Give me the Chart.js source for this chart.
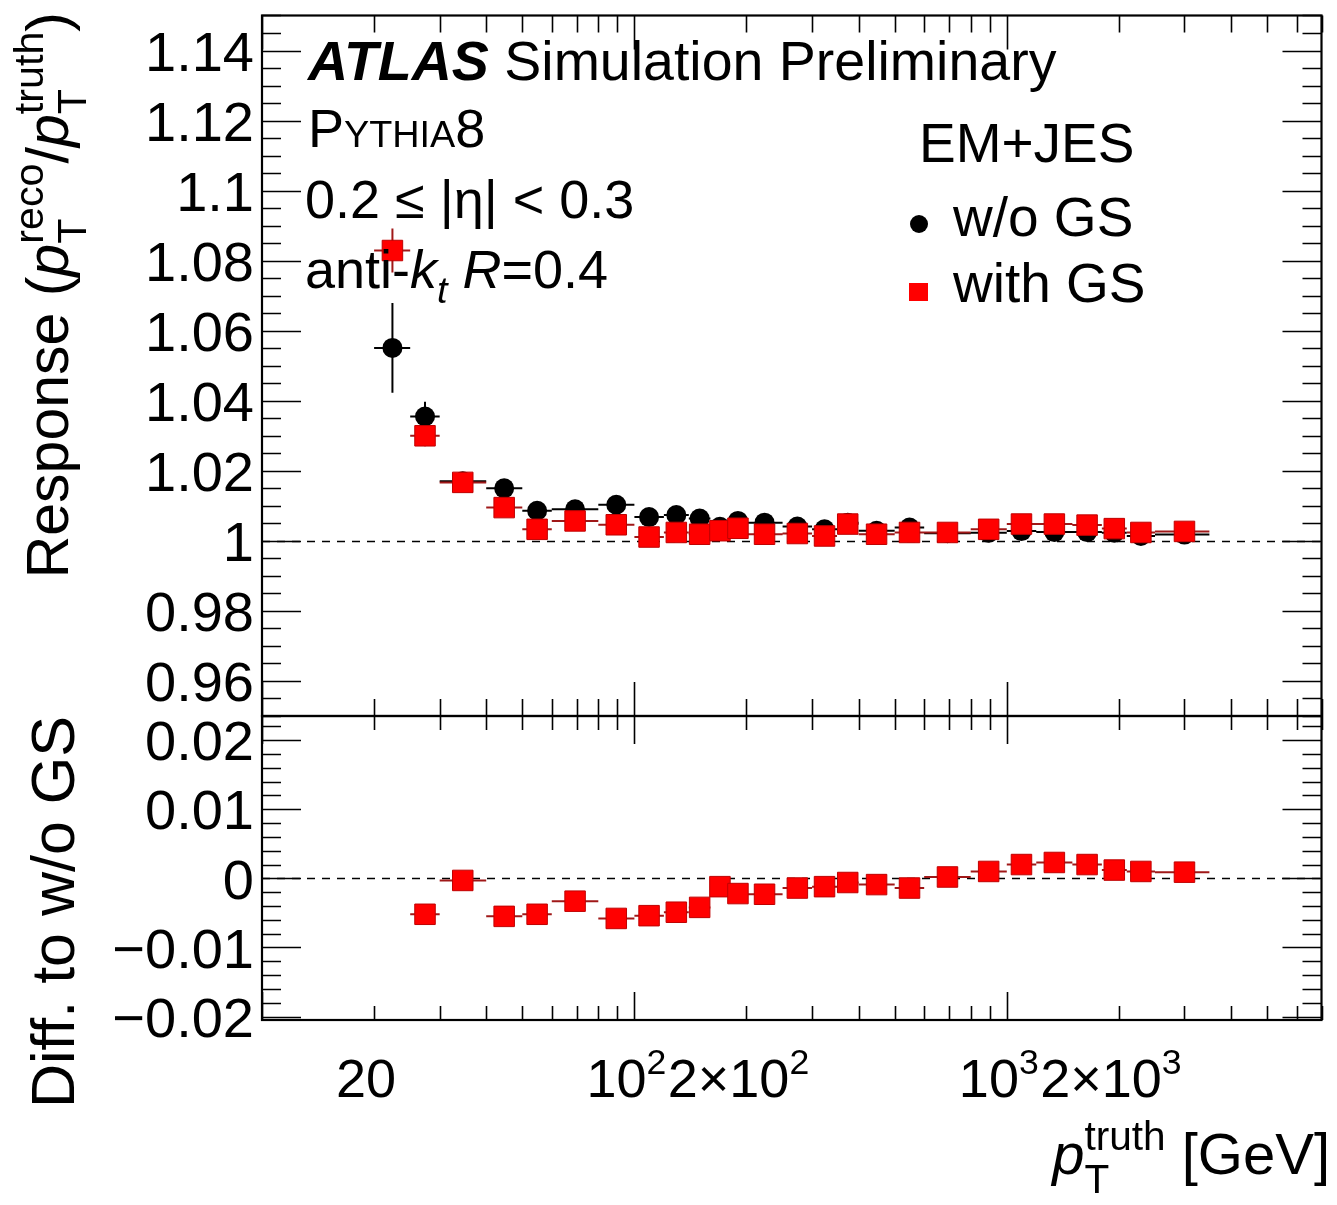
<!DOCTYPE html>
<html>
<head>
<meta charset="utf-8">
<script src="https://cdn.jsdelivr.net/npm/chart.js@4.4.0/dist/chart.umd.min.js"></script>
<style>
  html, body { margin: 0; padding: 0; background: #fff; }
  #wrap { position: relative; width: 1337px; height: 1205px; }
  canvas { position: absolute; left: 0; top: 0; }
</style>
</head>
<body>
<div id="wrap">
  <canvas id="respChart" width="1337" height="1205"></canvas>
  <canvas id="diffChart" width="1337" height="1205"></canvas>
</div>
<script>
// pT bins (GeV)
const binLow    = [20, 25, 30, 40, 50, 60, 80, 100, 120, 140, 160, 180, 200, 250, 300, 350, 400, 500, 600, 800, 1000, 1200, 1500, 1800, 2100, 2500];
const binHigh   = [25, 30, 40, 50, 60, 80, 100, 120, 140, 160, 180, 200, 250, 300, 350, 400, 500, 600, 800, 1000, 1200, 1500, 1800, 2100, 2500, 3500];
const ptCenters = [22.4, 27.4, 34.6, 44.7, 54.8, 69.3, 89.4, 109.5, 129.6, 149.7, 169.7, 189.7, 223.6, 273.9, 324, 374, 447, 548, 693, 894, 1095, 1342, 1643, 1944, 2291, 3000];

// response w/o GS (black)
const respNoGS = [1.0551, 1.0355, 1.0170, 1.0150, 1.0086, 1.0090, 1.0103, 1.0068, 1.0074, 1.0064, 1.0040, 1.0057, 1.0052,
                  1.0041, 1.0033, 1.0052, 1.0029, 1.0038, 1.0022, 1.0023, 1.0028, 1.0025, 1.0025, 1.0023, 1.0014, 1.0018];
const errNoGS  = [0.0128, 0.0042, 0.0015, 0.0012, 0.0010, 0.0009, 0.0008, 0.0007, 0.0007, 0.0006, 0.0006, 0.0006, 0.0005,
                  0.0005, 0.0005, 0.0005, 0.0004, 0.0004, 0.0004, 0.0004, 0.0004, 0.0004, 0.0004, 0.0004, 0.0005, 0.0005];

// response with GS (red)
const respGS = [1.0829, 1.0300, 1.0167, 1.0095, 1.0033, 1.0057, 1.0046, 1.0011, 1.0024, 1.0019, 1.0029, 1.0036, 1.0019,
                1.0021, 1.0014, 1.0048, 1.0019, 1.0024, 1.0024, 1.0033, 1.0048, 1.0048, 1.0045, 1.0035, 1.0024, 1.0027];
const errGS  = [0.0063, 0.0030, 0.0014, 0.0011, 0.0009, 0.0008, 0.0007, 0.0006, 0.0006, 0.0006, 0.0005, 0.0005, 0.0005,
                0.0005, 0.0005, 0.0005, 0.0004, 0.0004, 0.0004, 0.0004, 0.0004, 0.0004, 0.0004, 0.0004, 0.0005, 0.0005];

// difference with GS - w/o GS (first bin is above the plotted range)
const diffGS  = [null, -0.0052, -0.0003, -0.0055, -0.0052, -0.0033, -0.0058, -0.0054, -0.0049, -0.0042, -0.0012, -0.0022, -0.0023,
                 -0.0014, -0.0012, -0.0006, -0.0009, -0.0014, 0.0002, 0.0010, 0.0020, 0.0023, 0.0020, 0.0012, 0.0010, 0.0009];
const errDiff = [0, 0.0004, 0.0004, 0.0003, 0.0003, 0.0003, 0.0003, 0.0003, 0.0003, 0.0003, 0.0003, 0.0003, 0.0003,
                 0.0003, 0.0003, 0.0003, 0.0003, 0.0003, 0.0003, 0.0003, 0.0003, 0.0003, 0.0003, 0.0003, 0.0003, 0.0003];

// tick labels
const ptTicks      = [20, 100, 200, 1000, 2000];
const ptTickText   = ['20', '10^2', '2\u00d710^2', '10^3', '2\u00d710^3'];
const respTicks    = [0.96, 0.98, 1, 1.02, 1.04, 1.06, 1.08, 1.1, 1.12, 1.14];
const respTickText = ['0.96', '0.98', '1', '1.02', '1.04', '1.06', '1.08', '1.1', '1.12', '1.14'];
const diffTicks    = [0.02, 0.01, 0, -0.01, -0.02];
const diffTickText = ['0.02', '0.01', '0', '\u22120.01', '\u22120.02'];

const FAMILY = '"Liberation Sans", Arial, Helvetica, sans-serif';
const RED = '#ff0000';

function font(px, it, b) {
  return (it ? 'italic ' : '') + (b ? 'bold ' : '') + px + 'px ' + FAMILY;
}

// parts: {t, it, b, s (scale), dy (em, down), stay (no advance)}
function richWidth(ctx, parts, size) {
  let w = 0;
  parts.forEach(p => {
    ctx.font = font(size * (p.s || 1), p.it, p.b);
    if (!p.stay) w += ctx.measureText(p.t).width;
  });
  return w;
}

function drawRich(ctx, parts, x, y, size, align) {
  const w = richWidth(ctx, parts, size);
  let cx = align === 'right' ? x - w : align === 'center' ? x - w / 2 : x;
  ctx.textAlign = 'left';
  ctx.textBaseline = 'alphabetic';
  ctx.fillStyle = '#000';
  parts.forEach(p => {
    ctx.font = font(size * (p.s || 1), p.it, p.b);
    ctx.fillText(p.t, cx, y + (p.dy || 0) * size);
    if (!p.stay) cx += ctx.measureText(p.t).width;
  });
}

function tickParts(txt) {
  const bits = txt.split('^');
  const parts = [{t: bits[0]}];
  if (bits[1]) parts.push({t: bits[1], s: 0.66, dy: -0.42});
  return parts;
}

function drawFrame(chart, o) {
  const {ctx, chartArea: a, scales: {x, y}} = chart;
  ctx.save();
  ctx.strokeStyle = '#000';
  ctx.lineWidth = 1.6;
  ctx.beginPath();
  // log x ticks, top and bottom edges
  [10, 100, 1000].forEach(d => {
    for (let m = 1; m <= 9; m++) {
      const v = m * d;
      if (v < x.min - 1e-9 || v > x.max) continue;
      const px = Math.round(x.getPixelForValue(v)) + 0.5;
      const len = m === 1 ? o.xMajor : o.xMinor;
      ctx.moveTo(px, a.bottom); ctx.lineTo(px, a.bottom - len);
      ctx.moveTo(px, a.top); ctx.lineTo(px, a.top + len);
    }
  });
  // linear y ticks, left and right edges
  const ratio = Math.round(o.yMajorStep / o.yMinorStep);
  const k0 = Math.ceil(y.min / o.yMinorStep - 1e-6);
  const k1 = Math.floor(y.max / o.yMinorStep + 1e-6);
  for (let k = k0; k <= k1; k++) {
    const py = Math.round(y.getPixelForValue(k * o.yMinorStep)) + 0.5;
    const len = (k % ratio === 0) ? o.yMajor : o.yMinor;
    ctx.moveTo(a.left, py); ctx.lineTo(a.left + len, py);
    ctx.moveTo(a.right, py); ctx.lineTo(a.right - len, py);
  }
  ctx.stroke();
  ctx.lineWidth = 2.2;
  ctx.strokeRect(a.left, a.top, a.right - a.left, a.bottom - a.top);
  // y tick labels
  ctx.fillStyle = '#000';
  ctx.font = font(o.labelSize);
  ctx.textAlign = 'right';
  ctx.textBaseline = 'alphabetic';
  o.yTicks.forEach((v, i) => {
    ctx.fillText(o.yTickText[i], a.left - 8, y.getPixelForValue(v) + o.labelSize * 0.36);
  });
  ctx.restore();
}

function drawRefAndErrors(chart, refY) {
  const {ctx, chartArea: a, scales: {x, y}} = chart;
  ctx.save();
  ctx.beginPath();
  ctx.rect(a.left, a.top, a.right - a.left, a.bottom - a.top);
  ctx.clip();
  // dashed reference line
  ctx.strokeStyle = '#000';
  ctx.lineWidth = 1.5;
  ctx.setLineDash([8, 7]);
  const ry = Math.round(y.getPixelForValue(refY)) + 0.5;
  ctx.beginPath();
  ctx.moveTo(a.left, ry); ctx.lineTo(a.right, ry);
  ctx.stroke();
  ctx.setLineDash([]);
  // error bars, drawn below the markers
  chart.data.datasets.slice().reverse().forEach(ds => {
    ctx.strokeStyle = ds.barColor;
    ctx.lineWidth = 2;
    ctx.beginPath();
    ds.data.forEach((pt, i) => {
      if (pt.y === null) return;
      const py = y.getPixelForValue(pt.y);
      ctx.moveTo(x.getPixelForValue(binLow[i]), py);
      ctx.lineTo(x.getPixelForValue(binHigh[i]), py);
      const px = x.getPixelForValue(pt.x);
      ctx.moveTo(px, y.getPixelForValue(pt.y - ds.errY[i]));
      ctx.lineTo(px, y.getPixelForValue(pt.y + ds.errY[i]));
    });
    ctx.stroke();
  });
  ctx.restore();
}

function points(xs, ys) {
  return xs.map((v, i) => ({x: v, y: ys[i]}));
}

function baseOptions(yMin, yMax, padTop, padBottom) {
  return {
    responsive: false,
    animation: false,
    events: [],
    layout: {padding: {left: 262, right: 7, top: padTop, bottom: padBottom}},
    scales: {
      x: {type: 'logarithmic', min: 10, max: 7000, display: false},
      y: {type: 'linear', min: yMin, max: yMax, display: false}
    },
    plugins: {legend: {display: false}, tooltip: {enabled: false}}
  };
}

const frameTop = {
  xMajor: 34, xMinor: 17, yMajor: 39, yMinor: 19, yMajorStep: 0.02, yMinorStep: 0.005,
  labelSize: 56, yTicks: respTicks, yTickText: respTickText
};
const frameBottom = {
  xMajor: 28, xMinor: 14, yMajor: 39, yMinor: 19, yMajorStep: 0.01, yMinorStep: 0.002,
  labelSize: 56, yTicks: diffTicks, yTickText: diffTickText
};

// top panel: response
new Chart(document.getElementById('respChart'), {
  type: 'scatter',
  data: {
    datasets: [{
      label: 'with GS',
      data: points(ptCenters, respGS),
      errY: errGS,
      barColor: '#a01818',
      pointStyle: 'rect',
      pointRadius: 14.5,
      backgroundColor: RED,
      borderColor: '#c00000',
      borderWidth: 1,
      order: 0
    }, {
      label: 'w/o GS',
      data: points(ptCenters, respNoGS),
      errY: errNoGS,
      barColor: '#000',
      pointStyle: 'circle',
      pointRadius: 10,
      backgroundColor: '#000',
      borderColor: '#000',
      borderWidth: 0,
      order: 1
    }]
  },
  options: baseOptions(0.95, 1.15, 12, 1205 - 716),
  plugins: [{
    id: 'atlasTop',
    beforeDatasetsDraw(chart) { drawRefAndErrors(chart, 1); },
    afterDraw(chart) {
      const ctx = chart.ctx;
      drawFrame(chart, frameTop);
      ctx.save();
      // labels
      drawRich(ctx, [{t: 'ATLAS', it: true, b: true}, {t: ' Simulation Preliminary'}], 308, 80, 55.5);
      drawRich(ctx, [{t: 'P'}, {t: 'YTHIA', s: 0.7}, {t: '8'}], 308, 147, 54);
      drawRich(ctx, [{t: '0.2 \u2264 |\u03b7| < 0.3'}], 305, 218, 54);
      drawRich(ctx, [{t: 'anti-'}, {t: 'k', it: true}, {t: 't', it: true, s: 0.7, dy: 0.28}, {t: ' '},
                     {t: 'R', it: true}, {t: '=0.4'}], 305, 288, 54);
      // legend
      drawRich(ctx, [{t: 'EM+JES'}], 919, 162, 55);
      drawRich(ctx, [{t: 'w/o GS'}], 953, 236, 55);
      drawRich(ctx, [{t: 'with GS'}], 953, 302, 55);
      ctx.fillStyle = '#000';
      ctx.beginPath();
      ctx.arc(919, 224, 9, 0, 2 * Math.PI);
      ctx.fill();
      ctx.fillStyle = RED;
      ctx.fillRect(909, 283, 19, 18);
      // y title
      ctx.translate(68, 12);
      ctx.rotate(-Math.PI / 2);
      drawRich(ctx, [{t: 'Response ('}, {t: 'p', it: true}, {t: 'T', s: 0.7, dy: 0.3, stay: true},
                     {t: 'reco', s: 0.7, dy: -0.42}, {t: '/'}, {t: 'p', it: true},
                     {t: 'T', s: 0.7, dy: 0.3, stay: true}, {t: 'truth', s: 0.7, dy: -0.42}, {t: ')'}], 0, 0, 59, 'right');
      ctx.restore();
    }
  }]
});

// bottom panel: difference to w/o GS
new Chart(document.getElementById('diffChart'), {
  type: 'scatter',
  data: {
    datasets: [{
      label: 'Diff. to w/o GS',
      data: points(ptCenters, diffGS),
      errY: errDiff,
      barColor: '#a01818',
      pointStyle: 'rect',
      pointRadius: 14.5,
      backgroundColor: RED,
      borderColor: '#c00000',
      borderWidth: 1
    }]
  },
  options: baseOptions(-0.0205, 0.0235, 716, 1205 - 1020),
  plugins: [{
    id: 'atlasBottom',
    beforeDatasetsDraw(chart) { drawRefAndErrors(chart, 0); },
    afterDraw(chart) {
      const ctx = chart.ctx;
      const x = chart.scales.x;
      drawFrame(chart, frameBottom);
      ctx.save();
      ptTicks.forEach((v, i) => {
        drawRich(ctx, tickParts(ptTickText[i]), x.getPixelForValue(v) - 8, 1097, 54, 'center');
      });
      drawRich(ctx, [{t: 'p', it: true}, {t: 'T', s: 0.7, dy: 0.32, stay: true},
                     {t: 'truth', s: 0.7, dy: -0.42}, {t: ' [GeV]'}], 1330, 1174, 58, 'right');
      ctx.translate(74, 716);
      ctx.rotate(-Math.PI / 2);
      drawRich(ctx, [{t: 'Diff. to w/o GS'}], 0, 0, 61, 'right');
      ctx.restore();
    }
  }]
});
</script>
</body>
</html>
